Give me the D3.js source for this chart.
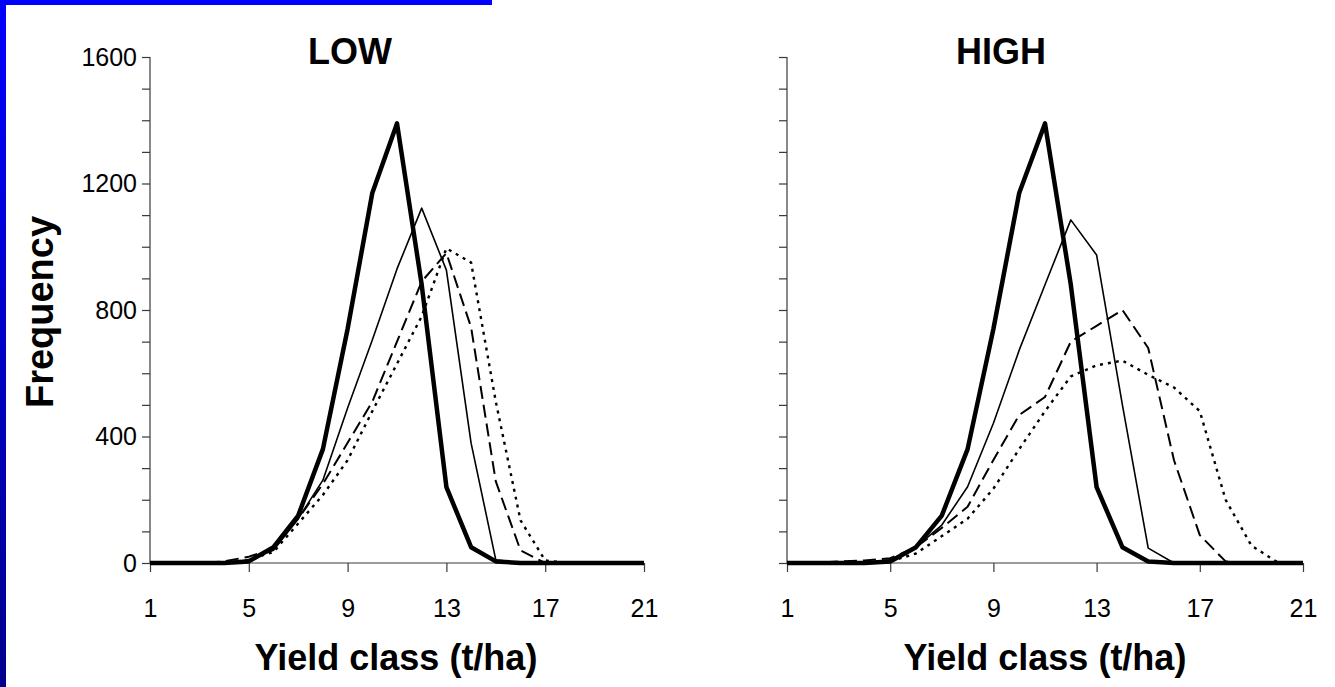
<!DOCTYPE html>
<html>
<head>
<meta charset="utf-8">
<script src="https://cdn.jsdelivr.net/npm/d3@7/dist/d3.min.js"></script>
<style>
  html, body { margin: 0; padding: 0; background: #fff; }
  svg { display: block; font-family: Arial, "Liberation Sans", sans-serif; }
</style>
</head>
<body>
<svg id="chart" width="1335" height="687"></svg>
<script>
// Yield classes (t/ha) on the category axis
const yieldClasses = [1,2,3,4,5,6,7,8,9,10,11,12,13,14,15,16,17,18,19,20,21];
const xTickLabels = [1, 5, 9, 13, 17, 21];
const yTickLabels = [0, 400, 800, 1200, 1600];

// Frequency per yield class; the bold solid curve is shared by both panels
const baseline = [0,0,0,0,5,50,150,360,740,1170,1390,880,240,50,5,0,0,0,0,0,0];

// LOW panel
const lowThin   = [0,0,0,0,10,40,140,262,490,705,930,1122,926,379,10,0,0,0,0,0,0];
const lowDashed = [0,0,0,5,20,45,140,250,380,510,700,890,980,745,258,40,0,0,0,0,0];
const lowDotted = [0,0,0,0,10,35,125,215,325,480,630,780,995,950,510,135,8,0,0,0,0];

// HIGH panel
const highThin   = [0,0,0,0,10,50,120,241,442,673,880,1085,974,500,47,0,0,0,0,0,0];
const highDashed = [0,0,5,8,15,50,111,178,326,468,525,700,750,800,680,325,88,5,0,0,0];
const highDotted = [0,0,0,0,5,30,85,140,235,360,480,590,625,640,595,555,480,200,55,3,0];

const svg = d3.select("#chart");
const FONT = "Arial, 'Liberation Sans', sans-serif";

// Blue slide frame along the top-left edges
const defs = svg.append("defs");
const grad = defs.append("linearGradient")
  .attr("id", "frameGrad").attr("x1", 0).attr("y1", 0).attr("x2", 0).attr("y2", 1);
grad.append("stop").attr("offset", "0%").attr("stop-color", "#0000ff");
grad.append("stop").attr("offset", "100%").attr("stop-color", "#00008c");
svg.append("rect").attr("x", 0).attr("y", 0).attr("width", 492).attr("height", 5).attr("fill", "#0000ff");
svg.append("rect").attr("x", 0).attr("y", 0).attr("width", 6).attr("height", 687).attr("fill", "url(#frameGrad)");

const styles = [
  { width: 4.5, dash: null },
  { width: 1.6, dash: null },
  { width: 2.0, dash: "13,6" },
  { width: 2.4, dash: "3,5" }
];

const y = d3.scaleLinear().domain([0, 1600]).range([563, 57]);

function panel(opts) {
  const x = d3.scaleLinear().domain([1, 21]).range(opts.xRange);
  const g = svg.append("g");
  const axisColor = "#3a3a3a";

  // y axis: line, ticks every 100
  g.append("line")
    .attr("x1", opts.xRange[0]).attr("x2", opts.xRange[0])
    .attr("y1", y(0)).attr("y2", y(1600))
    .attr("stroke", axisColor).attr("stroke-width", 1.2);
  const yAxis = d3.axisLeft(y)
    .tickValues(d3.range(0, 1601, 100))
    .tickSize(8)
    .tickFormat(d => (opts.yLabels && yTickLabels.includes(d)) ? d : "");
  const ya = g.append("g")
    .attr("transform", `translate(${opts.xRange[0]},0)`)
    .call(yAxis);
  ya.select(".domain").remove();
  ya.selectAll(".tick line").attr("stroke", axisColor).attr("stroke-width", 1.2);
  ya.selectAll(".tick text")
    .attr("x", -13)
    .attr("font-size", 25).attr("fill", "#000")
    .style("font-family", FONT);

  // x axis: labelled ticks every four classes
  const xAxis = d3.axisBottom(x).tickValues(xTickLabels).tickSize(9).tickFormat(d3.format("d"));
  const xa = g.append("g")
    .attr("transform", `translate(0,${y(0)})`)
    .call(xAxis);
  xa.select(".domain").attr("stroke", axisColor).attr("stroke-width", 1.2)
    .attr("d", `M${opts.xRange[0]},0H${opts.xRange[1]}`);
  xa.selectAll(".tick line").attr("stroke", axisColor).attr("stroke-width", 1.2);
  xa.selectAll(".tick text")
    .attr("y", 36)
    .attr("font-size", 25).attr("fill", "#000")
    .style("font-family", FONT);

  // frequency curves
  const line = d3.line()
    .x((d, i) => x(yieldClasses[i]))
    .y(d => y(d));
  opts.series.forEach((s, i) => {
    g.append("path")
      .datum(s)
      .attr("d", line)
      .attr("fill", "none")
      .attr("stroke", "#000")
      .attr("stroke-width", styles[i].width)
      .attr("stroke-linejoin", "round")
      .attr("stroke-dasharray", styles[i].dash);
  });

  // panel title and x axis title
  g.append("text")
    .attr("x", opts.titleX).attr("y", 64)
    .attr("text-anchor", "middle")
    .attr("font-size", 36).attr("font-weight", "bold")
    .text(opts.title);
  g.append("text")
    .attr("x", opts.xTitleX).attr("y", 670)
    .attr("text-anchor", "middle")
    .attr("font-size", 36).attr("font-weight", "bold")
    .text("Yield class (t/ha)");
}

panel({
  title: "LOW", titleX: 350, xTitleX: 396,
  xRange: [150, 644], yLabels: true,
  series: [baseline, lowThin, lowDashed, lowDotted]
});
panel({
  title: "HIGH", titleX: 1001, xTitleX: 1045,
  xRange: [787, 1303], yLabels: false,
  series: [baseline, highThin, highDashed, highDotted]
});

// shared y axis title
svg.append("text")
  .attr("transform", "translate(53,312) rotate(-90)")
  .attr("text-anchor", "middle")
  .attr("font-size", 38).attr("font-weight", "bold")
  .text("Frequency");
</script>
</body>
</html>
